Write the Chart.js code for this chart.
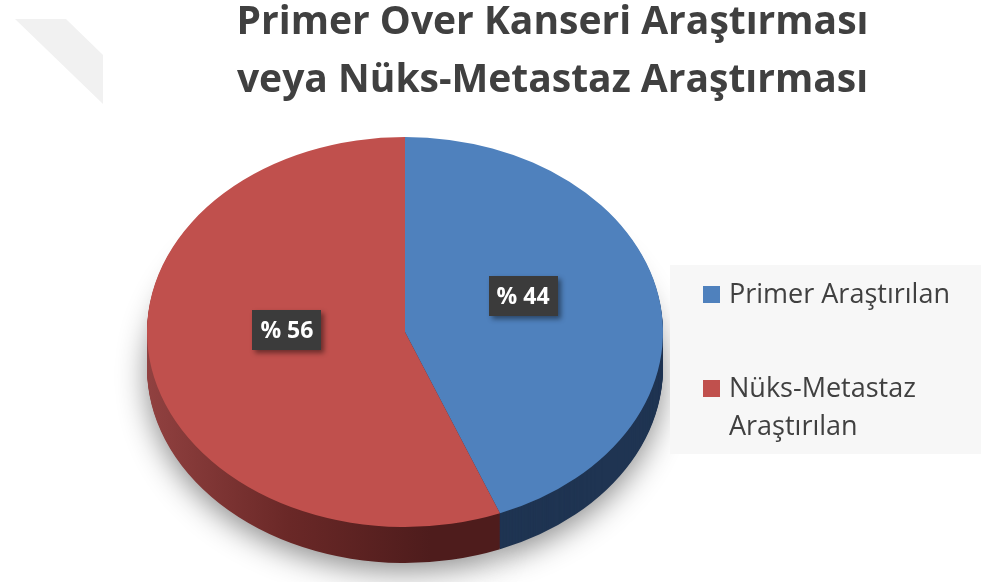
<!DOCTYPE html>
<html>
<head>
<meta charset="utf-8">
<script src="https://cdn.jsdelivr.net/npm/chart.js@4.4.0/dist/chart.umd.min.js"></script>
<style>
  body { margin: 0; background: #fff; }
  #wrap { position: relative; width: 981px; height: 582px; }
</style>
</head>
<body>
<div id="wrap"><canvas id="pie"></canvas></div>
<script>
// Veriler
const titleLines = ['Primer Over Kanseri Araştırması', 'veya Nüks-Metastaz Araştırması'];
const categories = ['Primer Araştırılan', 'Nüks-Metastaz Araştırılan'];
const legendLines = [['Primer Araştırılan'], ['Nüks-Metastaz', 'Araştırılan']];
const percentValues = [44, 56];
const topColors = ['#4f81bd', '#c0504d'];
const sideColors = ['#1f3452', '#561f1e'];

// 3B pasta görünümü (elips + kalınlık)
const PIE = { cx: 405, cy: 332, rx: 258, ry: 195, depth: 36, labelRadius: 0.466, labelShift: -19 };

function withEllipse(ctx, arc, dy) {
    const r = arc.outerRadius;
    ctx.translate(PIE.cx, PIE.cy + dy);
    ctx.scale(PIE.rx / r, PIE.ry / r);
    ctx.translate(-arc.x, -arc.y);
}

const pie3d = {
    id: 'pie3d',
    beforeDraw(chart) {
        // soldaki soluk filigran
        const ctx = chart.ctx;
        ctx.save();
        ctx.fillStyle = '#f1f1f1';
        ctx.beginPath();
        ctx.moveTo(15, 19);
        ctx.lineTo(66, 19);
        ctx.lineTo(103, 55);
        ctx.lineTo(103, 104);
        ctx.closePath();
        ctx.fill();
        ctx.restore();
    },
    beforeDatasetsDraw(chart) {
        const ctx = chart.ctx;
        const arcs = chart.getDatasetMeta(0).data;
        const r = arcs[0].outerRadius;
        // yan yüzey: katman katman aşağıdan yukarı
        for (let dy = PIE.depth; dy >= 1; dy--) {
            arcs.forEach((arc, i) => {
                ctx.save();
                withEllipse(ctx, arc, dy);
                if (dy === PIE.depth) {
                    ctx.shadowColor = 'rgba(0,0,0,0.45)';
                    ctx.shadowBlur = 30;
                    ctx.shadowOffsetY = 8;
                }
                let fill = sideColors[i];
                if (i === 1) {
                    const g = ctx.createLinearGradient(arc.x - r, 0, arc.x + r * 0.1, 0);
                    g.addColorStop(0, '#914140');
                    g.addColorStop(0.5, '#6a2827');
                    g.addColorStop(1, '#4e1c1c');
                    fill = g;
                }
                const ghost = Object.create(arc);
                ghost.options = Object.assign({}, arc.options, { backgroundColor: fill, borderWidth: 0 });
                ghost.draw(ctx);
                ctx.restore();
            });
        }
        // üst yüzey için dönüşüm (afterDatasetsDraw içinde geri alınır)
        ctx.save();
        withEllipse(ctx, arcs[0], 0);
    },
    afterDatasetsDraw(chart) {
        const ctx = chart.ctx;
        ctx.restore();
        const arcs = chart.getDatasetMeta(0).data;
        const values = chart.data.datasets[0].data;
        arcs.forEach((arc, i) => {
            const mid = (arc.startAngle + arc.endAngle) / 2;
            const x = PIE.cx + Math.cos(mid) * PIE.rx * PIE.labelRadius;
            const y = PIE.cy + Math.sin(mid) * PIE.ry * PIE.labelRadius + PIE.labelShift;
            const text = '% ' + values[i];
            ctx.save();
            ctx.font = 'bold 23px "Open Sans"';
            const w = ctx.measureText(text).width + 16;
            const h = 40;
            ctx.shadowColor = 'rgba(0,0,0,0.45)';
            ctx.shadowBlur = 5;
            ctx.shadowOffsetX = 3;
            ctx.shadowOffsetY = 3;
            ctx.fillStyle = '#3b3b3b';
            ctx.fillRect(Math.round(x - w / 2), Math.round(y - h / 2), Math.round(w), h);
            ctx.shadowColor = 'transparent';
            ctx.fillStyle = '#ffffff';
            ctx.textAlign = 'center';
            ctx.textBaseline = 'middle';
            ctx.fillText(text, x, y + 1);
            ctx.restore();
        });
    },
    afterDraw(chart) {
        // sağdaki açıklama kutusu
        const ctx = chart.ctx;
        const colors = chart.data.datasets[0].backgroundColor;
        ctx.save();
        ctx.fillStyle = '#f7f7f7';
        ctx.fillRect(670, 265, 311, 189);
        ctx.font = '27px "Open Sans"';
        ctx.textBaseline = 'alphabetic';
        const itemTops = [286, 380];
        legendLines.forEach((lines, i) => {
            ctx.fillStyle = colors[i];
            ctx.fillRect(703, itemTops[i], 17, 17);
            ctx.fillStyle = '#404040';
            lines.forEach((line, j) => {
                ctx.fillText(line, 729, itemTops[i] + 17 + j * 38);
            });
        });
        ctx.restore();
    }
};

new Chart(document.getElementById('pie'), {
    type: 'pie',
    data: {
        labels: categories,
        datasets: [{
            data: percentValues,
            backgroundColor: topColors,
            borderWidth: 0,
            clip: false
        }]
    },
    options: {
        responsive: true,
        maintainAspectRatio: false,
        animation: false,
        layout: { padding: { left: 124, top: -6, right: 0, bottom: 0 } },
        plugins: {
            legend: { display: false },
            tooltip: { enabled: false },
            title: {
                display: true,
                text: titleLines,
                color: '#404040',
                font: { family: '"Open Sans"', size: 39, weight: 'bold', lineHeight: 1.48 },
                padding: { top: 0, bottom: 10 }
            }
        }
    },
    plugins: [pie3d]
});
</script>
</body>
</html>
